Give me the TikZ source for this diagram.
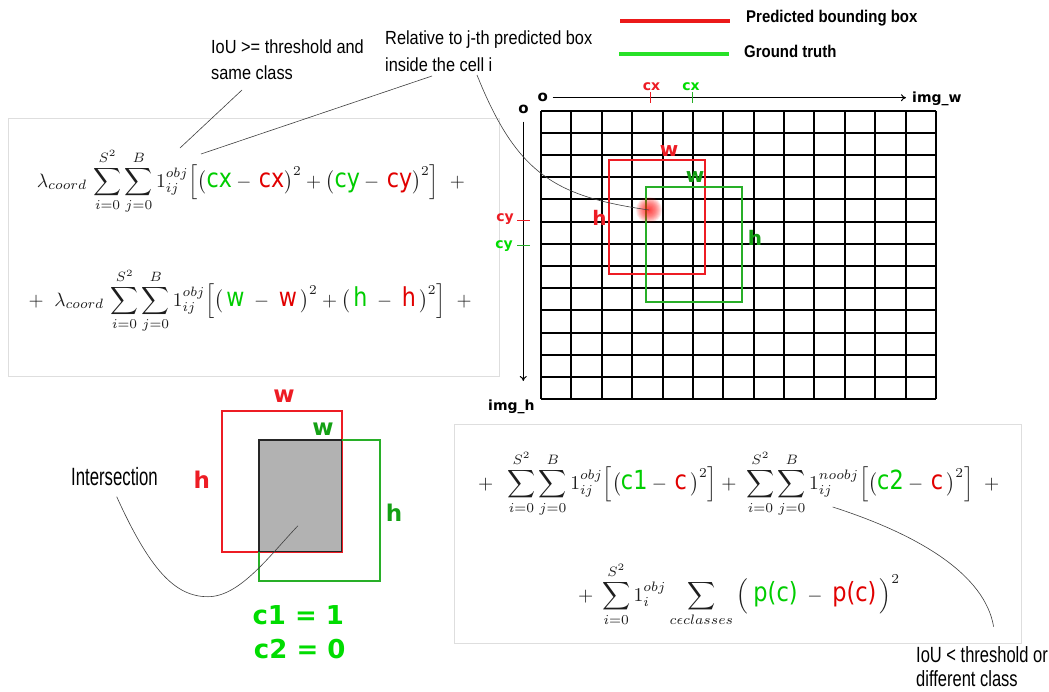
\documentclass[tikz,border=0pt]{standalone}
\usepackage{fontspec}
\usepackage{graphicx}
\usetikzlibrary{arrows.meta}
\newfontfamily\cf[FakeStretch=0.85]{DejaVu Sans}
\newfontfamily\vs{DejaVu Sans}
\newfontfamily\nar[FakeStretch=0.86]{Liberation Sans}
\newfontfamily\narb[FakeStretch=0.67]{Liberation Sans}
\newfontfamily\narc[FakeStretch=0.75]{Liberation Sans}
\newfontfamily\leg[FakeStretch=0.88]{Liberation Sans}
\definecolor{pred}{RGB}{237,28,36}
\definecolor{gtbox}{RGB}{40,175,40}
\definecolor{glabel}{RGB}{20,160,20}
\definecolor{gbright}{RGB}{0,220,0}
\definecolor{fred}{RGB}{225,0,0}
\definecolor{fgreen}{RGB}{0,205,0}
\definecolor{legred}{RGB}{235,25,25}
\definecolor{leggreen}{RGB}{40,225,40}
\definecolor{panelc}{RGB}{222,222,222}
\definecolor{fgray}{RGB}{30,30,30}
\definecolor{isect}{RGB}{178,178,178}
\newcommand\gx[1]{\mbox{\fontsize{13.5}{15}\selectfont\cf\color{fgreen}#1}}
\newcommand\rx[1]{\mbox{\fontsize{13.5}{15}\selectfont\cf\color{fred}#1}}
\newcommand\formA{\color{fgray}$\displaystyle\lambda_{coord}\,\sum_{i=0}^{S^2}\sum_{j=0}^{B}1_{ij}^{obj}\Big[\big(\gx{cx}-\,\rx{cx}\big)^2+\big(\gx{cy}-\,\rx{cy}\big)^2\Big]\;\;+$}
\newcommand\formB{\color{fgray}$\displaystyle+\;\;\lambda_{coord}\,\sum_{i=0}^{S^2}\sum_{j=0}^{B}1_{ij}^{obj}\Big[\big(\,\gx{w}\;-\;\rx{w}\,\big)^2+\big(\,\gx{h}\;-\;\rx{h}\,\big)^2\Big]\;\;+$}
\newcommand\formC{\color{fgray}$\displaystyle+\;\;\sum_{i=0}^{S^2}\sum_{j=0}^{B}1_{ij}^{obj}\Big[\big(\gx{c1}-\,\rx{c}\,\big)^2\Big]+\;\sum_{i=0}^{S^2}\sum_{j=0}^{B}1_{ij}^{noobj}\Big[\big(\gx{c2}-\,\rx{c}\,\big)^2\Big]\;\;+$}
\newcommand\formD{\color{fgray}$\displaystyle+\;\sum_{i=0}^{S^2}1_{i}^{obj}\sum_{c\epsilon classes}\Big(\;\gx{p(c)}\;-\;\rx{p(c)}\,\Big)^2$}
\begin{document}
\begin{tikzpicture}[x=1pt,y=-1pt,
  panel/.style={draw=panelc, line width=1pt},
  gridl/.style={line width=2pt, black},
  lab/.style={inner sep=0pt, font=\vs\bfseries\fontsize{20}{20}\selectfont},
  axlab/.style={inner sep=0pt, font=\vs\bfseries\fontsize{14}{14}\selectfont},
  note/.style={inner sep=0pt, anchor=base west, font=\nar\fontsize{19}{19}\selectfont},
  notemid/.style={inner sep=0pt, anchor=base west, font=\narc\fontsize{22}{22}\selectfont},
  notebig/.style={inner sep=0pt, anchor=base west, font=\narb\fontsize{25}{25}\selectfont},
  legtxt/.style={inner sep=0pt, anchor=base west, font=\leg\bfseries\fontsize{17}{17}\selectfont},
  call/.style={line width=0.6pt, black!75},
  formula/.style={inner sep=0pt, anchor=base west}
]
\useasboundingbox (0,0) rectangle (1049,691);
\fill[white] (0,0) rectangle (1049,691);

% panels
\draw[panel] (8,118.3) rectangle (499.3,376.7);
\draw[panel] (454,424) rectangle (1021.5,643);

% formulas
\node[formula] (fA) at (36.7,187) {\resizebox{428pt}{!}{\formA}};
\node[formula] (fB) at (28.3,306) {\resizebox{443pt}{!}{\formB}};
\node[formula] (fC) at (478,489) {\resizebox{521pt}{!}{\formC}};
\node[formula] (fD) at (578,601) {\resizebox{322pt}{!}{\formD}};

% legend
\coordinate (lr1) at (620,20.7); \coordinate (lr2) at (730,20.7);
\coordinate (lg1) at (619,54); \coordinate (lg2) at (729,54);
\draw[legred, line width=4pt] (lr1) -- (lr2);
\draw[leggreen, line width=4pt] (lg1) -- (lg2);
\node[legtxt] (legp) at (746,22.7) {Predicted bounding box};
\node[legtxt] (legg) at (744,57.3) {Ground truth};

% notes
\node[note] (ioua) at (211,53.3) {IoU >= threshold and};
\node[note] (ioub) at (211,79.3) {same class};
\node[note] (rela) at (385,44.5) {Relative to j-th predicted box};
\node[note] (relb) at (385,71) {inside the cell i};
\node[notemid] (ioula) at (916,662) {IoU < threshold or};
\node[notemid] (ioulb) at (916,686) {different class};
\node[notebig] (inter) at (71,485) {Intersection};

% grid
\foreach \i in {0,...,13}{\draw[gridl] ({541+30.38*\i},110.7) -- ({541+30.38*\i},399);}
\foreach \j in {0,...,13}{\draw[gridl] (541,{110.7+22.18*\j}) -- (936,{110.7+22.18*\j});}

% axes
\node[axlab, font=\vs\bfseries\fontsize{15}{15}\selectfont] (ox) at (542.7,97.5) {o};
\node[axlab, font=\vs\bfseries\fontsize{15}{15}\selectfont] (oy) at (523.5,109) {o};
\coordinate (xs) at (552.7,97.7); \coordinate (xe) at (906,97.7);
\coordinate (ys) at (523.3,121.7); \coordinate (ye) at (523.3,381);
\draw[line width=1pt, -{To[length=5pt,width=7pt]}] (xs) -- (xe);
\draw[line width=1pt, -{To[length=5pt,width=7pt]}] (ys) -- (ye);
\node[axlab, anchor=base west] (imgw) at (912,102) {img\_w};
\node[axlab, anchor=base west] (imgh) at (488,410) {img\_h};

% ticks
\coordinate (tr1) at (650,92); \coordinate (tr2) at (650,103);
\coordinate (tg1) at (692.7,92); \coordinate (tg2) at (692.7,103);
\draw[pred, line width=1pt] (tr1) -- (tr2);
\draw[gtbox, line width=1pt] (tg1) -- (tg2);
\node[axlab, text=pred] (cxr) at (651.5,86.5) {cx};
\node[axlab, text=gbright] (cxg) at (691,86.5) {cx};
\coordinate (tyr1) at (517,220); \coordinate (tyr2) at (530,220);
\coordinate (tyg1) at (517,245.7); \coordinate (tyg2) at (530,245.7);
\draw[pred, line width=1pt] (tyr1) -- (tyr2);
\draw[gtbox, line width=1pt] (tyg1) -- (tyg2);
\node[axlab, text=pred] (cyr) at (505,219) {cy};
\node[axlab, text=gbright] (cyg) at (504,246) {cy};

% boxes on grid
\draw[pred, line width=2.2pt] (609.3,160) rectangle (704.7,274.3);
\draw[gtbox, line width=2.2pt] (645.7,187.3) rectangle (741.7,302);
\node[lab, text=pred] (wr) at (669,151) {w};
\node[lab, text=glabel] (wg) at (695,177) {w};
\node[lab, text=pred] (hr) at (599.6,218) {h};
\node[lab, text=glabel] (hg) at (755,238) {h};

% glow
\coordinate (glow) at (649,210);
\foreach \r in {13,12,...,1}{\fill[red, opacity=0.09] (glow) circle (\r);}

% callouts
\coordinate (ca1) at (242,90); \coordinate (ca2) at (180,148);
\coordinate (cb1) at (432,76); \coordinate (cb2) at (201,154);
\draw[call] (ca1) -- (ca2);
\draw[call] (cb1) -- (cb2);
\coordinate (cc1) at (477,75);
\draw[call] (cc1) .. controls (517,175) and (556,196.5) .. (glow);
\coordinate (cd1) at (832.7,507); \coordinate (cd2) at (993.6,626.7);
\draw[call] (cd1) .. controls (920,535) and (985,575) .. (cd2);

% intersection figure
\draw[pred, line width=2.2pt] (221.7,410.7) rectangle (341.7,551.7);
\draw[gtbox, line width=2.2pt] (259,440) rectangle (380,581);
\fill[isect] (259,440) rectangle (341.7,551.7);
\draw[black!85, line width=1.2pt] (259,440) rectangle (341.7,551.7);
\node[lab, font=\vs\bfseries\fontsize{23}{23}\selectfont, text=pred] (iwr) at (284,396) {w};
\node[lab, font=\vs\bfseries\fontsize{23}{23}\selectfont, text=glabel] (iwg) at (323,429) {w};
\node[lab, font=\vs\bfseries\fontsize{23}{23}\selectfont, text=pred] (ihr) at (201.7,479.6) {h};
\node[lab, font=\vs\bfseries\fontsize{23}{23}\selectfont, text=glabel] (ihg) at (394,513) {h};
\node[lab, font=\vs\bfseries\fontsize{26}{26}\selectfont, text=gbright] (c1) at (298.3,615) {c1 = 1};
\node[lab, font=\vs\bfseries\fontsize{26}{26}\selectfont, text=gbright] (c2) at (299.7,649) {c2 = 0};
\coordinate (ci1) at (116.7,496.7); \coordinate (ci2) at (208,596.7); \coordinate (ci3) at (298,525.7);
\draw[call] (ci1) .. controls (150,570) and (175,596.7) .. (ci2) .. controls (240,596.7) and (270,555) .. (ci3);
\end{tikzpicture}
\end{document}
